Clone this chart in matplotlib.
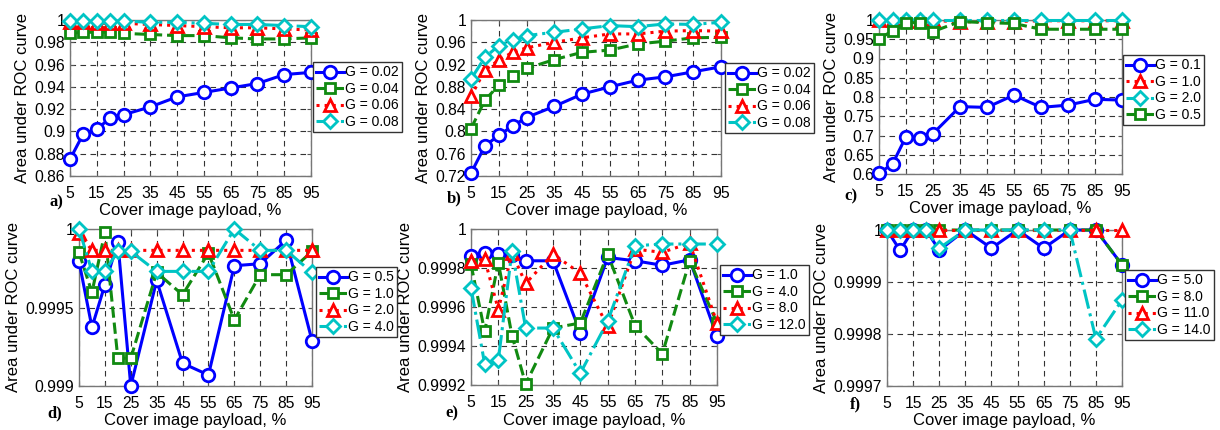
import matplotlib
matplotlib.use("Agg")
import matplotlib.pyplot as plt

plt.rcParams['font.family'] = ['Liberation Sans', 'DejaVu Sans']

x_payload = [5, 10, 15, 20, 25, 35, 45, 55, 65, 75, 85, 95]
x_ticks = [5, 15, 25, 35, 45, 55, 65, 75, 85, 95]

# Panel a
a_labels = ["G = 0.02", "G = 0.04", "G = 0.06", "G = 0.08"]
a_g002 = [0.875, 0.898, 0.902, 0.912, 0.915, 0.922, 0.931, 0.935, 0.939, 0.943, 0.951, 0.953]
a_g004 = [0.988, 0.989, 0.989, 0.989, 0.988, 0.987, 0.986, 0.986, 0.984, 0.983, 0.983, 0.984]
a_g006 = [0.998, 0.998, 0.997, 0.997, 0.997, 0.996, 0.995, 0.994, 0.993, 0.993, 0.992, 0.991]
a_g008 = [0.999, 0.999, 0.999, 0.999, 0.999, 0.998, 0.998, 0.997, 0.996, 0.996, 0.995, 0.994]
a_yticks = [0.86, 0.88, 0.9, 0.92, 0.94, 0.96, 0.98, 1.0]
a_yticklabels = ["0.86", "0.88", "0.9", "0.92", "0.94", "0.96", "0.98", "1"]

# Panel b
b_labels = ["G = 0.02", "G = 0.04", "G = 0.06", "G = 0.08"]
b_g002 = [0.725, 0.774, 0.793, 0.810, 0.825, 0.845, 0.867, 0.880, 0.892, 0.898, 0.907, 0.916]
b_g004 = [0.805, 0.856, 0.883, 0.900, 0.913, 0.929, 0.942, 0.946, 0.957, 0.962, 0.968, 0.969]
b_g006 = [0.863, 0.910, 0.928, 0.942, 0.950, 0.960, 0.968, 0.975, 0.975, 0.980, 0.981, 0.980]
b_g008 = [0.894, 0.933, 0.954, 0.964, 0.972, 0.978, 0.984, 0.990, 0.988, 0.993, 0.992, 0.996]
b_yticks = [0.72, 0.76, 0.8, 0.84, 0.88, 0.92, 0.96, 1.0]
b_yticklabels = ["0.72", "0.76", "0.8", "0.84", "0.88", "0.92", "0.96", "1"]

# Panel c
c_labels = ["G = 0.1", "G = 1.0", "G = 2.0", "G = 0.5"]
c_g01 = [0.602, 0.626, 0.697, 0.694, 0.705, 0.775, 0.773, 0.805, 0.773, 0.779, 0.794, 0.792]
c_g10 = [0.999, 0.999, 0.998, 0.998, 0.999, 0.995, 0.996, 0.996, 0.998, 0.998, 0.998, 0.998]
c_g20 = [1.0, 1.0, 1.0, 1.0, 1.0, 1.0, 1.0, 1.0, 1.0, 1.0, 1.0, 1.0]
c_g05 = [0.951, 0.972, 0.993, 0.993, 0.970, 0.996, 0.993, 0.991, 0.976, 0.976, 0.976, 0.976]
c_yticks = [0.6, 0.65, 0.7, 0.75, 0.8, 0.85, 0.9, 0.95, 1.0]
c_yticklabels = ["0.6", "0.65", "0.7", "0.75", "0.8", "0.85", "0.9", "0.95", "1"]

# Panel d
d_labels = ["G = 0.5", "G = 1.0", "G = 2.0", "G = 4.0"]
d_g05 = [0.999794, 0.999374, 0.999645, 0.999917, 0.999000, 0.999672, 0.999145, 0.999070, 0.999766, 0.999779, 0.999928, 0.999289]
d_g10 = [0.999851, 0.999596, 0.999979, 0.999177, 0.999177, 0.999723, 0.999581, 0.999847, 0.999421, 0.999709, 0.999709, 0.999857]
d_g20 = [0.999974, 0.999864, 0.999864, 0.999864, 0.999864, 0.999864, 0.999864, 0.999864, 0.999864, 0.999864, 0.999864, 0.999864]
d_g40 = [1.0, 0.999730, 0.999730, 0.999857, 0.999857, 0.999730, 0.999730, 0.999730, 1.0, 0.999864, 0.999864, 0.999723]
d_yticks = [0.999, 0.9995, 1.0]
d_yticklabels = ["0.999", "0.9995", "1"]

# Panel e
e_labels = ["G = 1.0", "G = 4.0", "G = 8.0", "G = 12.0"]
e_g10 = [0.999862, 0.999876, 0.999871, 0.999866, 0.999837, 0.999837, 0.999467, 0.999854, 0.999837, 0.999814, 0.999842, 0.999449]
e_g40 = [0.999819, 0.999475, 0.999828, 0.999453, 0.999205, 0.999492, 0.999518, 0.999871, 0.999505, 0.999360, 0.999837, 0.999518]
e_g80 = [0.999837, 0.999845, 0.999587, 0.999876, 0.999721, 0.999871, 0.999773, 0.999501, 0.999897, 0.999880, 0.999928, 0.999518]
e_g120 = [0.999699, 0.999308, 0.999329, 0.999888, 0.999492, 0.999492, 0.999260, 0.999527, 0.999914, 0.999923, 0.999923, 0.999923]
e_yticks = [0.9992, 0.9994, 0.9996, 0.9998, 1.0]
e_yticklabels = ["0.9992", "0.9994", "0.9996", "0.9998", "1"]

# Panel f
f_labels = ["G = 5.0", "G = 8.0", "G = 11.0", "G = 14.0"]
f_g50 = [1.0, 0.999961, 1.0, 1.0, 0.999961, 1.0, 0.999965, 1.0, 0.999965, 1.0, 1.0, 0.999933]
f_g80 = [1.0, 1.0, 1.0, 1.0, 1.0, 1.0, 1.0, 1.0, 1.0, 1.0, 1.0, 0.999933]
f_g110 = [1.0, 1.0, 1.0, 1.0, 1.0, 1.0, 1.0, 1.0, 1.0, 1.0, 1.0, 1.0]
f_g140 = [1.0, 1.0, 1.0, 1.0, 0.999965, 1.0, 1.0, 1.0, 1.0, 1.0, 0.999791, 0.999865]
f_yticks = [0.9997, 0.9998, 0.9999, 1.0]
f_yticklabels = ["0.9997", "0.9998", "0.9999", "1"]

BLUE = "#0000ff"
GREEN = "#118a11"
RED = "#ff0000"
CYAN = "#00c4c4"
STY = {
    'blue': dict(color=BLUE, ls='-', marker='o', ms=9),
    'green': dict(color=GREEN, ls='--', marker='s', ms=7.5),
    'red': dict(color=RED, ls=':', marker='^', ms=8.5),
    'cyan': dict(color=CYAN, ls='-.', marker='D', ms=7.5),
}

W, H = 1220, 430
fig = plt.figure(figsize=(W / 100, H / 100), dpi=100)


def px_axes(x0, y0, x1, y1):
    return fig.add_axes([x0 / W, 1 - y1 / H, (x1 - x0) / W, (y1 - y0) / H])


def panel(box, series, labels, ylim, yticks, yticklabels, legpos, letter, letterpos):
    ax = px_axes(*box)
    lines = []
    for ys, key in series:
        st = STY[key]
        ln, = ax.plot(x_payload, ys, color=st['color'], ls=st['ls'], lw=2.2,
                      marker=st['marker'], ms=st['ms'], mfc='white',
                      mec=st['color'], mew=2.0, clip_on=False, zorder=3)
        lines.append(ln)
    ax.set_xlim(5, 95)
    ax.set_ylim(*ylim)
    ax.set_xticks(x_ticks)
    ax.set_xticklabels([str(v) for v in x_ticks])
    ax.set_yticks(yticks)
    ax.set_yticklabels(yticklabels)
    ax.tick_params(labelsize=11.3, direction='in', length=3, top=True, right=True,
                   color='#555555')
    ax.tick_params(axis='y', pad=3.5)
    ax.tick_params(axis='x', pad=7)
    ax.grid(True, ls=(0, (5, 4)), color='#333333', lw=0.8)
    for sp in ax.spines.values():
        sp.set_color('#777777')
        sp.set_linewidth(1.0)
    ax.set_xlabel("Cover image payload, %", fontsize=12, labelpad=2)
    ax.set_ylabel("Area under ROC curve", fontsize=12, labelpad=3)
    lx0, ly0 = legpos
    leg = fig.legend(lines, labels, loc='upper left',
                     bbox_to_anchor=(lx0 / W, 1 - ly0 / H), bbox_transform=fig.transFigure,
                     fontsize=10, frameon=True, fancybox=False, borderaxespad=0,
                     handlelength=2.0, handletextpad=0.05, labelspacing=0.18,
                     borderpad=0.25, framealpha=1)
    leg.get_frame().set_edgecolor('#333333')
    leg.get_frame().set_linewidth(1.0)
    fig.text(letterpos[0] / W, 1 - letterpos[1] / H, letter, ha='center', va='center',
             fontsize=12, fontweight='bold', family='Liberation Serif')
    return ax


panel((70, 20, 311, 176),
      [(a_g002, 'blue'), (a_g004, 'green'), (a_g006, 'red'), (a_g008, 'cyan')],
      a_labels, (0.86, 1.0), a_yticks, a_yticklabels, (313, 62), "a)", (56, 202))
panel((471, 20, 721, 176),
      [(b_g002, 'blue'), (b_g004, 'green'), (b_g006, 'red'), (b_g008, 'cyan')],
      b_labels, (0.72, 1.0), b_yticks, b_yticklabels, (725, 63), "b)", (454, 198))
panel((879, 20, 1122, 174),
      [(c_g01, 'blue'), (c_g10, 'red'), (c_g20, 'cyan'), (c_g05, 'green')],
      c_labels, (0.6, 1.0), c_yticks, c_yticklabels, (1123, 55), "c)", (851, 196))
panel((79, 229, 312, 386),
      [(d_g05, 'blue'), (d_g10, 'green'), (d_g20, 'red'), (d_g40, 'cyan')],
      d_labels, (0.999, 1.0), d_yticks, d_yticklabels, (316, 267), "d)", (55, 413))
panel((471, 229, 717, 385),
      [(e_g10, 'blue'), (e_g40, 'green'), (e_g80, 'red'), (e_g120, 'cyan')],
      e_labels, (0.9992, 1.0), e_yticks, e_yticklabels, (720, 265), "e)", (452, 413))
panel((887, 230, 1122, 386),
      [(f_g50, 'blue'), (f_g80, 'green'), (f_g110, 'red'), (f_g140, 'cyan')],
      f_labels, (0.9997, 1.0), f_yticks, f_yticklabels, (1125, 270), "f)", (855, 404))

fig.savefig("out.png", dpi=100)
